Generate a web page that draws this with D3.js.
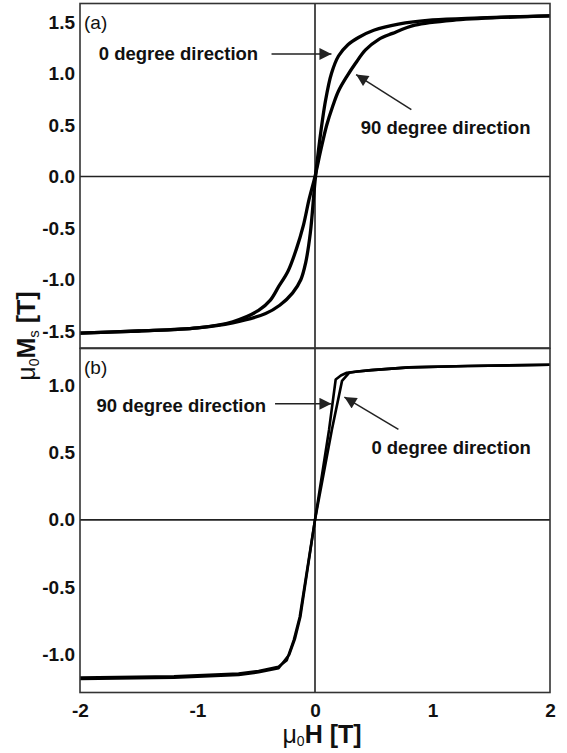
<!DOCTYPE html>
<html>
<head>
<meta charset="utf-8">
<script src="https://cdn.jsdelivr.net/npm/d3@7"></script>
<style>
  body { margin: 0; background: #fff; }
  svg { display: block; font-family: "Liberation Sans", Arial, sans-serif; }
</style>
</head>
<body>
<svg width="567" height="753"></svg>
<script>
// field values (mu0H, in T) and magnetisation (mu0Ms, in T)
var aZeroH = [-2, -1.5, -1, -0.7, -0.42, -0.3, -0.19, -0.12, -0.08, -0.04, 0, 0.04, 0.09, 0.14, 0.2, 0.28, 0.37, 0.5, 0.71, 1.0, 1.4, 2];
var aZeroM = [-1.52, -1.5, -1.47, -1.42, -1.33, -1.25, -1.13, -1.0, -0.84, -0.55, -0.05, 0.35, 0.74, 1.0, 1.17, 1.28, 1.35, 1.42, 1.48, 1.52, 1.54, 1.56];
var aNinetyH = [-2, -1.5, -1, -0.7, -0.48, -0.38, -0.31, -0.23, -0.16, -0.1, -0.05, 0, 0.05, 0.1, 0.15, 0.2, 0.27, 0.345, 0.43, 0.54, 0.66, 0.85, 1.2, 2];
var aNinetyM = [-1.52, -1.5, -1.47, -1.41, -1.3, -1.2, -1.07, -0.92, -0.71, -0.48, -0.22, 0, 0.26, 0.5, 0.68, 0.83, 0.97, 1.1, 1.23, 1.33, 1.39, 1.47, 1.52, 1.56];

var bNinetyH = [-2, -1.2, -0.65, -0.48, -0.31, -0.24, -0.18, -0.13, 0, 0.12, 0.176, 0.22, 0.27, 0.36, 0.48, 0.8, 1.3, 2];
var bNinetyM = [-1.17, -1.16, -1.14, -1.12, -1.09, -1.04, -0.89, -0.72, 0, 0.67, 1.04, 1.07, 1.09, 1.1, 1.11, 1.13, 1.14, 1.15];
var bZeroH = [-2, -1.2, -0.65, -0.48, -0.31, -0.22, -0.17, -0.125, 0, 0.144, 0.23, 0.29, 0.36, 0.48, 0.8, 1.3, 2];
var bZeroM = [-1.18, -1.17, -1.15, -1.13, -1.1, -1.0, -0.88, -0.72, 0, 0.67, 1.03, 1.09, 1.1, 1.11, 1.13, 1.14, 1.15];

var xTicks = [-2, -1, 0, 1, 2];
var aTicks = [-1.5, -1.0, -0.5, 0.0, 0.5, 1.0, 1.5];
var bTicks = [-1.0, -0.5, 0.0, 0.5, 1.0];

var svg = d3.select("svg");
var left = 80, right = 550;

var x = d3.scaleLinear().domain([-2, 2]).range([left, right]);
var ya = d3.scaleLinear().domain([-1.665, 1.68]).range([348, 3.5]);
var yb = d3.scaleLinear().domain([-1.28, 1.27]).range([692.5, 348.5]);

function fmt(d) { return d3.format(".1f")(d).replace("\u2212", "-"); }

var defs = svg.append("defs");
defs.append("marker")
    .attr("id", "head")
    .attr("viewBox", "0 0 10 10")
    .attr("refX", 10).attr("refY", 5)
    .attr("markerWidth", 9).attr("markerHeight", 8)
    .attr("markerUnits", "strokeWidth")
    .attr("orient", "auto")
  .append("path")
    .attr("d", "M0,0L10,5L0,10z")
    .attr("fill", "#222");

function panel(y, ticks, series, label, notes) {
    var g = svg.append("g");
    var y0 = y.range()[1], y1 = y.range()[0];

    // y tick labels
    g.append("g")
        .attr("transform", "translate(" + left + ",0)")
        .call(d3.axisLeft(y).tickValues(ticks).tickSize(0).tickPadding(5).tickFormat(fmt))
        .call(function(s) { s.select(".domain").remove(); })
        .selectAll("text")
        .attr("font-size", 19).attr("font-weight", "bold")
        .attr("font-family", "'Liberation Sans', Arial, sans-serif")
        .attr("fill", "#111");

    // zero lines
    g.append("line")
        .attr("x1", left).attr("x2", right)
        .attr("y1", y(0)).attr("y2", y(0))
        .attr("stroke", "#222").attr("stroke-width", 1.6);
    g.append("line")
        .attr("x1", x(0)).attr("x2", x(0))
        .attr("y1", y0).attr("y2", y1)
        .attr("stroke", "#222").attr("stroke-width", 1.6);

    var line = d3.line()
        .x(function(d) { return x(d[0]); })
        .y(function(d) { return y(d[1]); })
        .curve(series.curve);

    series.data.forEach(function(s) {
        g.append("path")
            .datum(d3.zip(s.h, s.m))
            .attr("d", line)
            .attr("fill", "none")
            .attr("stroke", "#000")
            .attr("stroke-width", series.width)
            .attr("stroke-linejoin", "round");
    });

    // frame
    g.append("rect")
        .attr("x", left).attr("y", y0)
        .attr("width", right - left).attr("height", y1 - y0)
        .attr("fill", "none")
        .attr("stroke", "#333").attr("stroke-width", 1.6);

    g.append("text")
        .attr("x", left + 4).attr("y", y0 + 25)
        .attr("font-size", 19).attr("fill", "#111")
        .text(label);

    notes.forEach(function(n) {
        g.append("text")
            .attr("x", x(n.tx)).attr("y", y(n.ty))
            .attr("font-size", 18.5).attr("font-weight", "bold").attr("fill", "#111")
            .text(n.text);
        g.append("line")
            .attr("x1", x(n.from[0])).attr("y1", y(n.from[1]))
            .attr("x2", x(n.to[0])).attr("y2", y(n.to[1]))
            .attr("stroke", "#222").attr("stroke-width", 1.5)
            .attr("marker-end", "url(#head)");
    });
}

panel(ya, aTicks,
    { curve: d3.curveCatmullRom, width: 3.3,
      data: [{ h: aZeroH, m: aZeroM }, { h: aNinetyH, m: aNinetyM }] },
    "(a)",
    [ { text: "0 degree direction", tx: -1.84, ty: 1.13, from: [-0.37, 1.19], to: [0.14, 1.19] },
      { text: "90 degree direction", tx: 0.39, ty: 0.41, from: [0.82, 0.65], to: [0.35, 0.99] } ]);

panel(yb, bTicks,
    { curve: d3.curveLinear, width: 2.6,
      data: [{ h: bNinetyH, m: bNinetyM }, { h: bZeroH, m: bZeroM }] },
    "(b)",
    [ { text: "90 degree direction", tx: -1.86, ty: 0.8, from: [-0.34, 0.86], to: [0.14, 0.86] },
      { text: "0 degree direction", tx: 0.48, ty: 0.49, from: [0.71, 0.67], to: [0.25, 0.91] } ]);

// x tick labels
svg.append("g")
    .attr("transform", "translate(0,692.5)")
    .call(d3.axisBottom(x).tickValues(xTicks).tickSize(0).tickPadding(11)
        .tickFormat(function(d) { return d3.format("d")(d).replace("\u2212", "-"); }))
    .call(function(s) { s.select(".domain").remove(); })
    .selectAll("text")
    .attr("font-size", 19).attr("font-weight", "bold")
    .attr("font-family", "'Liberation Sans', Arial, sans-serif")
    .attr("fill", "#111");

// axis titles
var xt = svg.append("text")
    .attr("x", 322).attr("y", 743)
    .attr("text-anchor", "middle")
    .attr("font-size", 25).attr("fill", "#111");
xt.append("tspan").text("\u03bc");
xt.append("tspan").attr("font-size", 14).attr("dy", 3).text("0");
xt.append("tspan").attr("font-weight", "bold").attr("dy", -3).text("H [T]");

var yt = svg.append("text")
    .attr("transform", "translate(35,336) rotate(-90)")
    .attr("text-anchor", "middle")
    .attr("font-size", 25).attr("fill", "#111");
yt.append("tspan").text("\u03bc");
yt.append("tspan").attr("font-size", 14).attr("dy", 4).text("0");
yt.append("tspan").attr("font-weight", "bold").attr("dy", -4).text("M");
yt.append("tspan").attr("font-size", 15).attr("dy", 4).text("s");
yt.append("tspan").attr("font-weight", "bold").attr("dy", -4).text(" [T]");
</script>
</body>
</html>
